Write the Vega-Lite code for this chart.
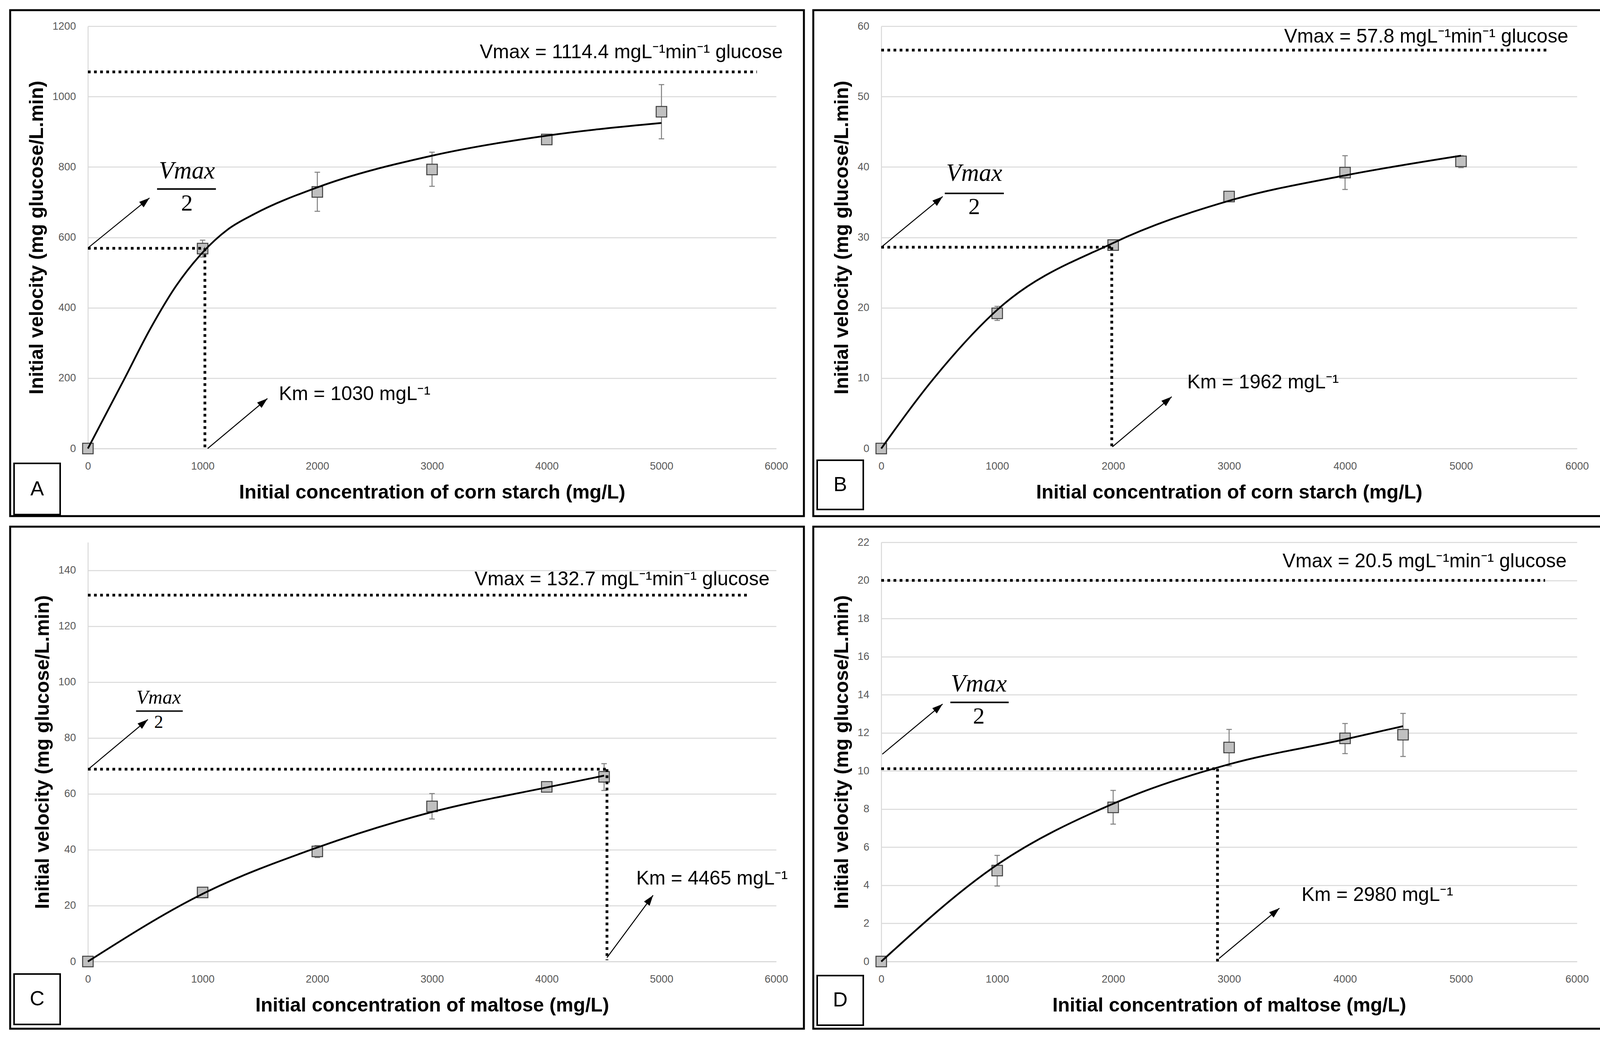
{
  "$schema": "https://vega.github.io/schema/vega-lite/v6.json",
  "background": "white",
  "padding": {"left": 23, "top": 23, "right": 21, "bottom": 23},
  "columns": 2,
  "align": "each",
  "spacing": {"row": 21, "column": 18},
  "datasets": {
    "A_pts": [{"x":0,"y":0},{"x":1000,"y":568},{"x":2000,"y":729},{"x":3000,"y":793},{"x":4000,"y":878},{"x":5000,"y":957}],
    "A_err": [{"x":1000,"y":544,"y2":592},{"x":2000,"y":674,"y2":785},{"x":3000,"y":745,"y2":842},{"x":4000,"y":870,"y2":886},{"x":5000,"y":880,"y2":1034}],
    "A_fit": [{"x":0,"y":0},{"x":315,"y":196},{"x":542,"y":339},{"x":769,"y":462},{"x":1000,"y":557},{"x":1222,"y":623},{"x":1449,"y":666},{"x":2000,"y":742},{"x":3000,"y":832},{"x":4000,"y":889},{"x":5000,"y":925}],
    "B_pts": [{"x":0,"y":0},{"x":1000,"y":19.2},{"x":2000,"y":28.9},{"x":3000,"y":35.8},{"x":4000,"y":39.2},{"x":5000,"y":40.8}],
    "B_err": [{"x":1000,"y":18.2,"y2":20.2},{"x":2000,"y":28.5,"y2":29.3},{"x":3000,"y":35.5,"y2":36.1},{"x":4000,"y":36.8,"y2":41.6},{"x":5000,"y":39.9,"y2":41.6}],
    "B_fit": [{"x":0,"y":0},{"x":455,"y":10},{"x":1000,"y":19.7},{"x":2000,"y":29.2},{"x":3000,"y":35.2},{"x":4000,"y":38.8},{"x":5000,"y":41.6}],
    "C_pts": [{"x":0,"y":0},{"x":1000,"y":24.7},{"x":2000,"y":39.4},{"x":3000,"y":55.5},{"x":4000,"y":62.5},{"x":4500,"y":66.1}],
    "C_err": [{"x":1000,"y":22.9,"y2":26.3},{"x":2000,"y":37.2,"y2":41.5},{"x":3000,"y":51.0,"y2":60.1},{"x":4000,"y":61.5,"y2":63.5},{"x":4500,"y":61.2,"y2":70.8}],
    "C_fit": [{"x":0,"y":0},{"x":1000,"y":24.2},{"x":2000,"y":40.8},{"x":3000,"y":53.5},{"x":4000,"y":62.3},{"x":4500,"y":66.5}],
    "D_pts": [{"x":0,"y":0},{"x":1000,"y":4.77},{"x":2000,"y":8.09},{"x":3000,"y":11.23},{"x":4000,"y":11.71},{"x":4500,"y":11.9}],
    "D_err": [{"x":1000,"y":3.96,"y2":5.57},{"x":2000,"y":7.21,"y2":8.98},{"x":3000,"y":10.27,"y2":12.18},{"x":4000,"y":10.91,"y2":12.49},{"x":4500,"y":10.76,"y2":13.02}],
    "D_fit": [{"x":0,"y":0},{"x":1000,"y":5.08},{"x":2000,"y":8.28},{"x":3000,"y":10.35},{"x":4000,"y":11.66},{"x":4500,"y":12.35}]
  },
  "concat": [
    {
      "width": 1762, "height": 1081,
      "encoding": {
        "x": {"field": "x", "type": "quantitative", "scale": {"domain": [0, 6000], "nice": false, "zero": false}, "axis": {"title": "Initial concentration of corn starch (mg/L)", "values": [0,1000,2000,3000,4000,5000,6000], "format": "d"}},
        "y": {"field": "y", "type": "quantitative", "scale": {"domain": [0, 1200], "nice": false, "zero": false}, "axis": {"title": "Initial velocity (mg glucose/L.min)", "values": [0,200,400,600,800,1000,1200], "format": "d"}}
      },
      "layer": [
        {"data": {"values": [{"x": -677.6, "x2": 6241.8, "y": -192.0, "y2": 1245.5}]}, "mark": {"type": "rect", "fill": null, "stroke": "black", "strokeWidth": 5}, "encoding": {"x2": {"field": "x2"}, "y2": {"field": "y2"}}},
        {"data": {"values": [{"x": -643.6, "x2": -241.8, "y": -187.6, "y2": -42.2}]}, "mark": {"type": "rect", "fill": null, "stroke": "black", "strokeWidth": 4}, "encoding": {"x2": {"field": "x2"}, "y2": {"field": "y2"}}},
        {"data": {"values": [{"x": -442.7, "y": -114.9, "label": "A"}]}, "mark": {"type": "text", "fontSize": 52, "align": "center", "baseline": "middle", "color": "black"}, "encoding": {"text": {"field": "label"}}},
        {"data": {"name": "A_err"}, "mark": {"type": "rule", "color": "#7f7f7f", "strokeWidth": 2.5}, "encoding": {"y2": {"field": "y2"}}},
        {"data": {"name": "A_err"}, "mark": {"type": "tick", "orient": "horizontal", "size": 14, "thickness": 2.5, "color": "#7f7f7f", "opacity": 1}},
        {"data": {"name": "A_err"}, "mark": {"type": "tick", "orient": "horizontal", "size": 14, "thickness": 2.5, "color": "#7f7f7f", "opacity": 1}, "encoding": {"y": {"field": "y2", "type": "quantitative", "title": "Initial velocity (mg glucose/L.min)"}}},
        {"data": {"name": "A_pts"}, "mark": {"type": "point", "shape": "square", "size": 729, "filled": true, "fill": "#c0c0c0", "stroke": "#404040", "strokeWidth": 2.5, "opacity": 1}},
        {"data": {"name": "A_fit"}, "mark": {"type": "line", "color": "black", "strokeWidth": 4.5, "interpolate": "monotone"}},
        {"data": {"values": [{"x": 0, "y": 1070, "x2": 5832, "y2": 1070}, {"x": 0, "y": 569, "x2": 1020, "y2": 569}, {"x": 1020, "y": 569, "x2": 1020, "y2": 0}]}, "mark": {"type": "rule", "color": "black", "strokeWidth": 7, "strokeDash": [7, 8.7]}, "encoding": {"x2": {"field": "x2"}, "y2": {"field": "y2"}}},
        {"data": {"values": [{"x": 5, "y": 571, "x2": 537, "y2": 712}, {"x": 1044, "y": 0, "x2": 1565, "y2": 142}]}, "mark": {"type": "rule", "color": "black", "strokeWidth": 2.5}, "encoding": {"x2": {"field": "x2"}, "y2": {"field": "y2"}}},
        {"data": {"values": [{"x": 537, "y": 712}, {"x": 1565, "y": 142}]}, "mark": {"type": "point", "shape": "M0,0L-0.4,1.2L0.4,1.2Z", "size": 2000, "filled": true, "color": "black", "opacity": 1, "angle": 50.3}},
        {"data": {"values": [{"x": 603, "y": 737.5, "x2": 1116, "y2": 737.5}]}, "mark": {"type": "rule", "color": "black", "strokeWidth": 4}, "encoding": {"x2": {"field": "x2"}, "y2": {"field": "y2"}}},
        {"data": {"values": [{"x": 6057, "y": 1126, "label": "Vmax = 1114.4 mgL⁻¹min⁻¹ glucose"}]}, "mark": {"type": "text", "fontSize": 50, "align": "right", "baseline": "middle", "color": "black"}, "encoding": {"text": {"field": "label"}}},
        {"data": {"values": [{"x": 1665, "y": 154, "label": "Km = 1030 mgL⁻¹"}]}, "mark": {"type": "text", "fontSize": 50, "align": "left", "baseline": "middle", "color": "black"}, "encoding": {"text": {"field": "label"}}},
        {"data": {"values": [{"x": 863, "y": 767, "label": "Vmax"}]}, "mark": {"type": "text", "font": "Liberation Serif", "fontStyle": "italic", "fontSize": 63, "align": "center", "baseline": "alphabetic", "color": "black"}, "encoding": {"text": {"field": "label"}}},
        {"data": {"values": [{"x": 863, "y": 676, "label": "2"}]}, "mark": {"type": "text", "font": "Liberation Serif", "fontSize": 60, "align": "center", "baseline": "alphabetic", "color": "black"}, "encoding": {"text": {"field": "label"}}}
      ]
    },
    {
      "width": 1781, "height": 1081,
      "encoding": {
        "x": {"field": "x", "type": "quantitative", "scale": {"domain": [0, 6000], "nice": false, "zero": false}, "axis": {"title": "Initial concentration of corn starch (mg/L)", "values": [0,1000,2000,3000,4000,5000,6000], "format": "d"}},
        "y": {"field": "y", "type": "quantitative", "scale": {"domain": [0, 60], "nice": false, "zero": false}, "axis": {"title": "Initial velocity (mg glucose/L.min)", "values": [0,10,20,30,40,50,60], "format": "d"}}
      },
      "layer": [
        {"data": {"values": [{"x": -586.2, "x2": 6259.4, "y": -9.60, "y2": 62.27}]}, "mark": {"type": "rect", "fill": null, "stroke": "black", "strokeWidth": 5}, "encoding": {"x2": {"field": "x2"}, "y2": {"field": "y2"}}},
        {"data": {"values": [{"x": -552.5, "x2": -155.0, "y": -8.66, "y2": -1.665}]}, "mark": {"type": "rect", "fill": null, "stroke": "black", "strokeWidth": 4}, "encoding": {"x2": {"field": "x2"}, "y2": {"field": "y2"}}},
        {"data": {"values": [{"x": -353.7, "y": -5.16, "label": "B"}]}, "mark": {"type": "text", "fontSize": 52, "align": "center", "baseline": "middle", "color": "black"}, "encoding": {"text": {"field": "label"}}},
        {"data": {"name": "B_err"}, "mark": {"type": "rule", "color": "#7f7f7f", "strokeWidth": 2.5}, "encoding": {"y2": {"field": "y2"}}},
        {"data": {"name": "B_err"}, "mark": {"type": "tick", "orient": "horizontal", "size": 14, "thickness": 2.5, "color": "#7f7f7f", "opacity": 1}},
        {"data": {"name": "B_err"}, "mark": {"type": "tick", "orient": "horizontal", "size": 14, "thickness": 2.5, "color": "#7f7f7f", "opacity": 1}, "encoding": {"y": {"field": "y2", "type": "quantitative", "title": "Initial velocity (mg glucose/L.min)"}}},
        {"data": {"name": "B_pts"}, "mark": {"type": "point", "shape": "square", "size": 729, "filled": true, "fill": "#c0c0c0", "stroke": "#404040", "strokeWidth": 2.5, "opacity": 1}},
        {"data": {"name": "B_fit"}, "mark": {"type": "line", "color": "black", "strokeWidth": 4.5, "interpolate": "monotone"}},
        {"data": {"values": [{"x": 0, "y": 56.6, "x2": 5737, "y2": 56.6}, {"x": 0, "y": 28.6, "x2": 1988, "y2": 28.6}, {"x": 1988, "y": 28.6, "x2": 1988, "y2": 0}]}, "mark": {"type": "rule", "color": "black", "strokeWidth": 7, "strokeDash": [7, 8.7]}, "encoding": {"x2": {"field": "x2"}, "y2": {"field": "y2"}}},
        {"data": {"values": [{"x": 0, "y": 28.6, "x2": 530, "y2": 35.8}, {"x": 1993, "y": 0.24, "x2": 2505, "y2": 7.36}]}, "mark": {"type": "rule", "color": "black", "strokeWidth": 2.5}, "encoding": {"x2": {"field": "x2"}, "y2": {"field": "y2"}}},
        {"data": {"values": [{"x": 530, "y": 35.8}, {"x": 2505, "y": 7.36}]}, "mark": {"type": "point", "shape": "M0,0L-0.4,1.2L0.4,1.2Z", "size": 2000, "filled": true, "color": "black", "opacity": 1, "angle": 50.2}},
        {"data": {"values": [{"x": 548, "y": 36.25, "x2": 1057, "y2": 36.25}]}, "mark": {"type": "rule", "color": "black", "strokeWidth": 4}, "encoding": {"x2": {"field": "x2"}, "y2": {"field": "y2"}}},
        {"data": {"values": [{"x": 5925, "y": 58.5, "label": "Vmax = 57.8 mgL⁻¹min⁻¹ glucose"}]}, "mark": {"type": "text", "fontSize": 50, "align": "right", "baseline": "middle", "color": "black"}, "encoding": {"text": {"field": "label"}}},
        {"data": {"values": [{"x": 2639, "y": 9.4, "label": "Km = 1962 mgL⁻¹"}]}, "mark": {"type": "text", "fontSize": 50, "align": "left", "baseline": "middle", "color": "black"}, "encoding": {"text": {"field": "label"}}},
        {"data": {"values": [{"x": 802, "y": 38.0, "label": "Vmax"}]}, "mark": {"type": "text", "font": "Liberation Serif", "fontStyle": "italic", "fontSize": 63, "align": "center", "baseline": "alphabetic", "color": "black"}, "encoding": {"text": {"field": "label"}}},
        {"data": {"values": [{"x": 802, "y": 33.3, "label": "2"}]}, "mark": {"type": "text", "font": "Liberation Serif", "fontSize": 60, "align": "center", "baseline": "alphabetic", "color": "black"}, "encoding": {"text": {"field": "label"}}}
      ]
    },
    {
      "width": 1762, "height": 1073,
      "encoding": {
        "x": {"field": "x", "type": "quantitative", "scale": {"domain": [0, 6000], "nice": false, "zero": false}, "axis": {"title": "Initial concentration of maltose (mg/L)", "values": [0,1000,2000,3000,4000,5000,6000], "format": "d"}},
        "y": {"field": "y", "type": "quantitative", "scale": {"domain": [0, 150], "nice": false, "zero": false}, "axis": {"title": "Initial velocity (mg glucose/L.min)", "values": [0,20,40,60,80,100,120,140], "format": "d"}}
      },
      "layer": [
        {"data": {"values": [{"x": -677.6, "x2": 6241.8, "y": -24.04, "y2": 155.59}]}, "mark": {"type": "rect", "fill": null, "stroke": "black", "strokeWidth": 5}, "encoding": {"x2": {"field": "x2"}, "y2": {"field": "y2"}}},
        {"data": {"values": [{"x": -643.6, "x2": -241.8, "y": -22.51, "y2": -4.47}]}, "mark": {"type": "rect", "fill": null, "stroke": "black", "strokeWidth": 4}, "encoding": {"x2": {"field": "x2"}, "y2": {"field": "y2"}}},
        {"data": {"values": [{"x": -442.7, "y": -13.49, "label": "C"}]}, "mark": {"type": "text", "fontSize": 52, "align": "center", "baseline": "middle", "color": "black"}, "encoding": {"text": {"field": "label"}}},
        {"data": {"name": "C_err"}, "mark": {"type": "rule", "color": "#7f7f7f", "strokeWidth": 2.5}, "encoding": {"y2": {"field": "y2"}}},
        {"data": {"name": "C_err"}, "mark": {"type": "tick", "orient": "horizontal", "size": 14, "thickness": 2.5, "color": "#7f7f7f", "opacity": 1}},
        {"data": {"name": "C_err"}, "mark": {"type": "tick", "orient": "horizontal", "size": 14, "thickness": 2.5, "color": "#7f7f7f", "opacity": 1}, "encoding": {"y": {"field": "y2", "type": "quantitative", "title": "Initial velocity (mg glucose/L.min)"}}},
        {"data": {"name": "C_pts"}, "mark": {"type": "point", "shape": "square", "size": 729, "filled": true, "fill": "#c0c0c0", "stroke": "#404040", "strokeWidth": 2.5, "opacity": 1}},
        {"data": {"name": "C_fit"}, "mark": {"type": "line", "color": "black", "strokeWidth": 4.5, "interpolate": "monotone"}},
        {"data": {"values": [{"x": 0, "y": 131.1, "x2": 5754, "y2": 131.1}, {"x": 0, "y": 68.8, "x2": 4525, "y2": 68.8}, {"x": 4525, "y": 68.8, "x2": 4525, "y2": 0.5}]}, "mark": {"type": "rule", "color": "black", "strokeWidth": 7, "strokeDash": [7, 8.7]}, "encoding": {"x2": {"field": "x2"}, "y2": {"field": "y2"}}},
        {"data": {"values": [{"x": 9, "y": 69, "x2": 523, "y2": 86.6}, {"x": 4525, "y": 1.4, "x2": 4927, "y2": 23.7}]}, "mark": {"type": "rule", "color": "black", "strokeWidth": 2.5}, "encoding": {"x2": {"field": "x2"}, "y2": {"field": "y2"}}},
        {"data": {"values": [{"x": 523, "y": 86.6}]}, "mark": {"type": "point", "shape": "M0,0L-0.4,1.2L0.4,1.2Z", "size": 2000, "filled": true, "color": "black", "opacity": 1, "angle": 50.6}},
        {"data": {"values": [{"x": 4927, "y": 23.7}]}, "mark": {"type": "point", "shape": "M0,0L-0.4,1.2L0.4,1.2Z", "size": 2000, "filled": true, "color": "black", "opacity": 1, "angle": 36.8}},
        {"data": {"values": [{"x": 420, "y": 89.6, "x2": 827, "y2": 89.6}]}, "mark": {"type": "rule", "color": "black", "strokeWidth": 3.5}, "encoding": {"x2": {"field": "x2"}, "y2": {"field": "y2"}}},
        {"data": {"values": [{"x": 5942, "y": 136.7, "label": "Vmax = 132.7 mgL⁻¹min⁻¹ glucose"}]}, "mark": {"type": "text", "fontSize": 50, "align": "right", "baseline": "middle", "color": "black"}, "encoding": {"text": {"field": "label"}}},
        {"data": {"values": [{"x": 4780, "y": 29.7, "label": "Km = 4465 mgL⁻¹"}]}, "mark": {"type": "text", "fontSize": 50, "align": "left", "baseline": "middle", "color": "black"}, "encoding": {"text": {"field": "label"}}},
        {"data": {"values": [{"x": 617, "y": 92.2, "label": "Vmax"}]}, "mark": {"type": "text", "font": "Liberation Serif", "fontStyle": "italic", "fontSize": 50, "align": "center", "baseline": "alphabetic", "color": "black"}, "encoding": {"text": {"field": "label"}}},
        {"data": {"values": [{"x": 617, "y": 83.6, "label": "2"}]}, "mark": {"type": "text", "font": "Liberation Serif", "fontSize": 46, "align": "center", "baseline": "alphabetic", "color": "black"}, "encoding": {"text": {"field": "label"}}}
      ]
    },
    {
      "width": 1781, "height": 1073,
      "encoding": {
        "x": {"field": "x", "type": "quantitative", "scale": {"domain": [0, 6000], "nice": false, "zero": false}, "axis": {"title": "Initial concentration of maltose (mg/L)", "values": [0,1000,2000,3000,4000,5000,6000], "format": "d"}},
        "y": {"field": "y", "type": "quantitative", "scale": {"domain": [0, 22], "nice": false, "zero": false}, "axis": {"title": "Initial velocity (mg glucose/L.min)", "values": [0,2,4,6,8,10,12,14,16,18,20,22], "format": "d"}}
      },
      "layer": [
        {"data": {"values": [{"x": -586.2, "x2": 6259.4, "y": -3.527, "y2": 22.82}]}, "mark": {"type": "rect", "fill": null, "stroke": "black", "strokeWidth": 5}, "encoding": {"x2": {"field": "x2"}, "y2": {"field": "y2"}}},
        {"data": {"values": [{"x": -552.5, "x2": -155.0, "y": -3.342, "y2": -0.738}]}, "mark": {"type": "rect", "fill": null, "stroke": "black", "strokeWidth": 4}, "encoding": {"x2": {"field": "x2"}, "y2": {"field": "y2"}}},
        {"data": {"values": [{"x": -353.7, "y": -2.04, "label": "D"}]}, "mark": {"type": "text", "fontSize": 52, "align": "center", "baseline": "middle", "color": "black"}, "encoding": {"text": {"field": "label"}}},
        {"data": {"name": "D_err"}, "mark": {"type": "rule", "color": "#7f7f7f", "strokeWidth": 2.5}, "encoding": {"y2": {"field": "y2"}}},
        {"data": {"name": "D_err"}, "mark": {"type": "tick", "orient": "horizontal", "size": 14, "thickness": 2.5, "color": "#7f7f7f", "opacity": 1}},
        {"data": {"name": "D_err"}, "mark": {"type": "tick", "orient": "horizontal", "size": 14, "thickness": 2.5, "color": "#7f7f7f", "opacity": 1}, "encoding": {"y": {"field": "y2", "type": "quantitative", "title": "Initial velocity (mg glucose/L.min)"}}},
        {"data": {"name": "D_pts"}, "mark": {"type": "point", "shape": "square", "size": 729, "filled": true, "fill": "#c0c0c0", "stroke": "#404040", "strokeWidth": 2.5, "opacity": 1}},
        {"data": {"name": "D_fit"}, "mark": {"type": "line", "color": "black", "strokeWidth": 4.5, "interpolate": "monotone"}},
        {"data": {"values": [{"x": 0, "y": 20, "x2": 5725, "y2": 20}, {"x": 0, "y": 10.12, "x2": 2900, "y2": 10.12}, {"x": 2900, "y": 10.12, "x2": 2900, "y2": 0}]}, "mark": {"type": "rule", "color": "black", "strokeWidth": 7, "strokeDash": [7, 8.7]}, "encoding": {"x2": {"field": "x2"}, "y2": {"field": "y2"}}},
        {"data": {"values": [{"x": 9, "y": 10.88, "x2": 529, "y2": 13.51}, {"x": 2913, "y": 0.16, "x2": 3434, "y2": 2.8}]}, "mark": {"type": "rule", "color": "black", "strokeWidth": 2.5}, "encoding": {"x2": {"field": "x2"}, "y2": {"field": "y2"}}},
        {"data": {"values": [{"x": 529, "y": 13.51}, {"x": 3434, "y": 2.8}]}, "mark": {"type": "point", "shape": "M0,0L-0.4,1.2L0.4,1.2Z", "size": 2000, "filled": true, "color": "black", "opacity": 1, "angle": 50.2}},
        {"data": {"values": [{"x": 596, "y": 13.6, "x2": 1099, "y2": 13.6}]}, "mark": {"type": "rule", "color": "black", "strokeWidth": 4}, "encoding": {"x2": {"field": "x2"}, "y2": {"field": "y2"}}},
        {"data": {"values": [{"x": 5911, "y": 21.0, "label": "Vmax = 20.5 mgL⁻¹min⁻¹ glucose"}]}, "mark": {"type": "text", "fontSize": 50, "align": "right", "baseline": "middle", "color": "black"}, "encoding": {"text": {"field": "label"}}},
        {"data": {"values": [{"x": 3625, "y": 3.49, "label": "Km = 2980 mgL⁻¹"}]}, "mark": {"type": "text", "fontSize": 50, "align": "left", "baseline": "middle", "color": "black"}, "encoding": {"text": {"field": "label"}}},
        {"data": {"values": [{"x": 841, "y": 14.17, "label": "Vmax"}]}, "mark": {"type": "text", "font": "Liberation Serif", "fontStyle": "italic", "fontSize": 63, "align": "center", "baseline": "alphabetic", "color": "black"}, "encoding": {"text": {"field": "label"}}},
        {"data": {"values": [{"x": 841, "y": 12.49, "label": "2"}]}, "mark": {"type": "text", "font": "Liberation Serif", "fontSize": 60, "align": "center", "baseline": "alphabetic", "color": "black"}, "encoding": {"text": {"field": "label"}}}
      ]
    }
  ],
  "config": {
    "font": "Liberation Sans",
    "view": {"stroke": null},
    "axis": {
      "domainColor": "#d9d9d9", "domainWidth": 2.5,
      "gridColor": "#d9d9d9", "gridWidth": 2.5,
      "ticks": false, "tickSize": 0,
      "labelColor": "#595959", "labelFontSize": 27, "labelFont": "Liberation Sans",
      "labelFlush": false, "labelOverlap": false,
      "titleFont": "Liberation Sans", "titleFontSize": 50, "titleFontWeight": "bold", "titleColor": "black"
    },
    "axisX": {"grid": false, "labelPadding": 32, "titlePadding": 29},
    "axisY": {"grid": true, "labelPadding": 31, "titlePadding": 14}
  }
}
